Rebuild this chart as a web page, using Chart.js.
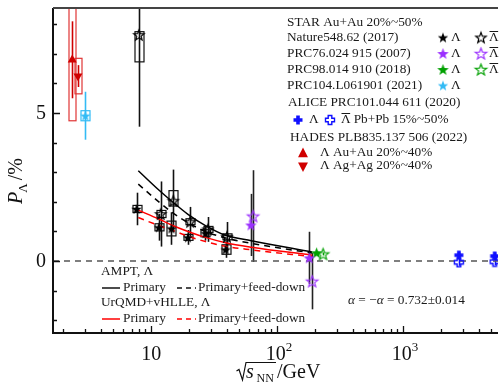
<!DOCTYPE html>
<html><head><meta charset="utf-8">
<script src="https://cdn.jsdelivr.net/npm/chart.js@4.4.0/dist/chart.umd.min.js"></script>
<style>html,body{margin:0;padding:0;background:#fff}#wrap{width:504px;height:390px;position:relative}</style>
</head><body><div id="wrap"><canvas id="c" width="504" height="390"></canvas></div>
<script>
// ---------------- data ----------------
const xMin = 1.66, xMax = 5690, yMin = -2.43, yMax = 8.55;
const yMajorTicks = [0, 5];
const yMinorTicks = [-2, -1, 1, 2, 3, 4, 6, 7, 8];
const xMajorTicks = [10, 100, 1000];
const xTickLabels = ['10', '10|2', '10|3'];

// STAR Nature 548, 62 (2017)
const star17E = [7.65, 11.5, 14.5, 19.6, 27, 39];
const star17L = [1.76, 1.14, 1.10, 0.80, 0.94, 0.39];
const star17LStat = [0.55, 0.45, 0.55, 0.25, 0.25, 0.28];
const star17LSys = [0.12, 0.12, 0.25, 0.10, 0.12, 0.16];
const star17BarE = [7.98, 11.9, 15.0, 20.4, 28.2, 40.0];
const star17Bar = [7.64, 1.59, 2.04, 1.33, 1.07, 0.82];
const star17BarStat = [3.1, 1.1, 1.05, 0.5, 0.42, 0.5];
const star17BarSysLo = [0.91, 0.12, 0.18, 0.10, 0.10, 0.10];
const star17BarSysHi = [0.11, 0.12, 0.34, 0.10, 0.10, 0.10];
// STAR PRC 76, 024915 (2007)
const star07E = [62, 180];
const star07L = [1.22, 0.11];
const star07LStat = [1.05, 0.88];
const star07BarE = [64.5, 190];
const star07Bar = [1.52, -0.68];
const star07BarStat = [1.55, 0.95];
// STAR PRC 98, 014910 (2018)
const star18E = [206];
const star18L = [0.28];
const star18LStat = [0.04];
const star18BarE = [232];
const star18Bar = [0.24];
const star18BarStat = [0.05];
// STAR PRC 104, L061901 (2021)
const star21E = [3.0];
const star21L = [4.91];
const star21LStat = [0.81];
const star21LSys = [0.17];
// ALICE PRC 101, 044611 (2020)
const aliceE = [2780, 5350];
const aliceL = [0.20, 0.17];
const aliceLStat = [0.12, 0.12];
const aliceBar = [-0.04, -0.02];
const aliceBarStat = [0.12, 0.12];
// HADES PLB 835, 137506 (2022)
const hadesAuE = [2.36];
const hadesAu = [6.8];
const hadesAuStat = [1.3];
const hadesAuSys = [2.06];
const hadesAgE = [2.62];
const hadesAg = [6.25];
const hadesAgStat = [0.37];
const hadesAgSys = [0.6];
// models
const modelE = [7.9, 11.5, 14.5, 19.6, 27, 39, 62.4, 190];
const amptPrimary = [3.05, 2.40, 2.03, 1.58, 1.20, 0.87, 0.69, 0.31];
const amptFeed = [2.60, 2.00, 1.66, 1.30, 1.00, 0.78, 0.60, 0.27];
const urqmdPrimary = [1.72, 1.42, 1.22, 1.00, 0.80, 0.62, 0.47, 0.20];
const urqmdFeed = [1.47, 1.20, 1.05, 0.84, 0.66, 0.50, 0.38, 0.15];

// ---------------- styles ----------------
const FONT = '"Liberation Serif","Times New Roman",serif';
const LFS = 13.3;
const C_PURPLE = '#9b30ff', C_GREEN = '#00a000', C_CYAN = '#33bbf5', C_BLUE = '#1010ff', C_RED = '#d00000';

function starCanvas(R, color, filled, lw) {
  lw = lw || 1.2;
  const s = Math.ceil(2 * R + lw * 2 + 2);
  const c = document.createElement('canvas'); c.width = c.height = s;
  const g = c.getContext('2d');
  const cx = s / 2, cy = s / 2 + R * 0.1;
  g.beginPath();
  for (let k = 0; k < 10; k++) {
    const r = k % 2 ? R * 0.42 : R;
    const a = -Math.PI / 2 + k * Math.PI / 5;
    g.lineTo(cx + r * Math.cos(a), cy + r * Math.sin(a));
  }
  g.closePath();
  if (filled) { g.fillStyle = color; g.fill(); }
  else { g.strokeStyle = color; g.lineWidth = lw; g.lineJoin = 'miter'; g.stroke(); }
  return c;
}
function plusCanvas(size, arm, color, filled) {
  const s = Math.ceil(size + 3);
  const c = document.createElement('canvas'); c.width = c.height = s;
  const g = c.getContext('2d');
  const h = size / 2, t = arm / 2, o = s / 2;
  const pts = [[-t,-h],[t,-h],[t,-t],[h,-t],[h,t],[t,t],[t,h],[-t,h],[-t,t],[-h,t],[-h,-t],[-t,-t]];
  g.beginPath(); pts.forEach(p => g.lineTo(o + p[0], o + p[1])); g.closePath();
  if (filled) { g.fillStyle = color; g.fill(); }
  else { g.strokeStyle = color; g.lineWidth = 1.4; g.stroke(); }
  return c;
}
const imgStarBlackF = starCanvas(5.5, '#000', true);
const imgStarBlackO = starCanvas(5.5, '#000', false);
const imgStarPurpF = starCanvas(6, C_PURPLE, true);
const imgStarPurpO = starCanvas(6, C_PURPLE, false);
const imgStarGreenF = starCanvas(6, C_GREEN, true);
const imgStarGreenO = starCanvas(6, C_GREEN, false);
const imgStarCyanF = starCanvas(5.5, C_CYAN, true);
const imgPlusF = plusCanvas(9, 3.6, C_BLUE, true);
const imgPlusO = plusCanvas(9, 3.6, C_BLUE, false);

const pts = (xs, ys) => xs.map((v, i) => ({ x: v, y: ys[i] }));
function scat(xs, ys, style, extra) {
  return Object.assign({ type: 'scatter', data: pts(xs, ys), pointStyle: style, pointRadius: 5, showLine: false }, extra || {});
}
function modelLine(ys, color, dash) {
  return { type: 'line', data: pts(modelE, ys), borderColor: color, borderWidth: 1.5, borderDash: dash, pointRadius: 0,
           showLine: true, fill: false, tension: 0.35, cubicInterpolationMode: 'monotone' };
}

const datasets = [
  scat(star17E, star17L, imgStarBlackF),
  scat(star17BarE, star17Bar, imgStarBlackO),
  scat(star07E, star07L, imgStarPurpF),
  scat(star07BarE, star07Bar, imgStarPurpO),
  scat(star18E, star18L, imgStarGreenF),
  scat(star18BarE, star18Bar, imgStarGreenO),
  scat(star21E, star21L, imgStarCyanF),
  scat(aliceE, aliceL, imgPlusF),
  scat(aliceE, aliceBar, imgPlusO),
  scat(hadesAuE, hadesAu, 'triangle', { pointRadius: 5.2, backgroundColor: C_RED, borderColor: C_RED, borderWidth: 0 }),
  scat(hadesAgE, hadesAg, 'triangle', { pointRadius: 5.2, rotation: 180, backgroundColor: C_RED, borderColor: C_RED, borderWidth: 0 }),
  modelLine(amptPrimary, '#000', []),
  modelLine(amptFeed, '#000', [6, 5]),
  modelLine(urqmdPrimary, '#ff0000', []),
  modelLine(urqmdFeed, '#ff0000', [6, 5]),
  { type: 'line', data: [{ x: xMin, y: 0 }, { x: xMax, y: 0 }], borderColor: '#555', borderWidth: 1.6, borderDash: [6, 5], pointRadius: 0, showLine: true, fill: false }
];

// error bars / systematic boxes
const errSets = [
  { E: hadesAuE, v: hadesAu, st: hadesAuStat, sysLo: hadesAuSys, sysHi: hadesAuSys, c: C_RED, bc: '#e03535', w: 7 },
  { E: hadesAgE, v: hadesAg, st: hadesAgStat, sysLo: hadesAgSys, sysHi: hadesAgSys, c: C_RED, bc: '#e03535', w: 7 },
  { E: star21E, v: star21L, st: star21LStat, sysLo: star21LSys, sysHi: star21LSys, c: C_CYAN, bc: C_CYAN, w: 9 },
  { E: star17E, v: star17L, st: star17LStat, sysLo: star17LSys, sysHi: star17LSys, c: '#111', bc: '#111', w: 9 },
  { E: star17BarE, v: star17Bar, st: star17BarStat, sysLo: star17BarSysLo, sysHi: star17BarSysHi, c: '#111', bc: '#111', w: 9 },
  { E: star07E, v: star07L, st: star07LStat, c: '#222' },
  { E: star07BarE, v: star07Bar, st: star07BarStat, c: '#222' },
  { E: star18E, v: star18L, st: star18LStat, c: C_GREEN },
  { E: star18BarE, v: star18Bar, st: star18BarStat, c: C_GREEN },
  { E: aliceE, v: aliceL, st: aliceLStat, c: C_BLUE },
  { E: aliceE, v: aliceBar, st: aliceBarStat, c: C_BLUE }
];

const errPlugin = {
  id: 'err',
  beforeDatasetsDraw(chart) {
    const { ctx, chartArea: a, scales: { x, y } } = chart;
    ctx.save();
    ctx.beginPath(); ctx.rect(a.left, a.top, a.right - a.left, a.bottom - a.top); ctx.clip();
    errSets.forEach(s => {
      s.E.forEach((e, i) => {
        const px = Math.round(x.getPixelForValue(e)) + 0.5;
        ctx.strokeStyle = s.c; ctx.lineWidth = 1.6;
        ctx.beginPath();
        ctx.moveTo(px, y.getPixelForValue(s.v[i] + s.st[i]));
        ctx.lineTo(px, y.getPixelForValue(s.v[i] - s.st[i]));
        ctx.stroke();
        if (s.sysLo) {
          const t = y.getPixelForValue(s.v[i] + s.sysHi[i]);
          const b = y.getPixelForValue(s.v[i] - s.sysLo[i]);
          ctx.strokeStyle = s.bc; ctx.lineWidth = 1.2;
          ctx.strokeRect(px - s.w / 2, t, s.w, b - t);
        }
      });
    });
    ctx.restore();
  }
};

// draws Λ with an overbar; text baseline is 'middle'
function drawLambdaBar(ctx, x, yMid, size) {
  ctx.fillText('\u039B', x, yMid);
  const w = ctx.measureText('\u039B').width;
  ctx.save(); ctx.lineWidth = 1; ctx.strokeStyle = ctx.fillStyle;
  const yb = Math.round(yMid - size * 0.5) + 0.5;
  ctx.beginPath(); ctx.moveTo(x + 0.5, yb); ctx.lineTo(x + w - 0.5, yb); ctx.stroke();
  ctx.restore();
  return w;
}
function drawImg(ctx, img, cx, cy) { ctx.drawImage(img, cx - img.width / 2, cy - img.height / 2); }
function tri(ctx, cx, cy, r, down, color) {
  ctx.save(); ctx.fillStyle = color; ctx.beginPath();
  const s = down ? -1 : 1;
  ctx.moveTo(cx, cy - s * r); ctx.lineTo(cx + r * 0.9, cy + s * r * 0.75); ctx.lineTo(cx - r * 0.9, cy + s * r * 0.75);
  ctx.closePath(); ctx.fill(); ctx.restore();
}

const axesPlugin = {
  id: 'axes',
  afterDatasetsDraw(chart) {
    const { ctx, chartArea: a, scales: { x, y } } = chart;
    ctx.save();
    // ticks
    ctx.strokeStyle = '#111'; ctx.lineWidth = 1.3;
    ctx.beginPath();
    yMajorTicks.forEach(v => { const p = Math.round(y.getPixelForValue(v)) + 0.5; ctx.moveTo(a.left, p); ctx.lineTo(a.left + 7, p); });
    yMinorTicks.forEach(v => { const p = Math.round(y.getPixelForValue(v)) + 0.5; ctx.moveTo(a.left, p); ctx.lineTo(a.left + 4, p); });
    for (let d = 1; d <= 1000; d *= 10) {
      for (let m = 1; m <= 9; m++) {
        const v = d * m; if (v < xMin || v > xMax) continue;
        const p = Math.round(x.getPixelForValue(v)) + 0.5;
        const len = m === 1 ? 7 : 4;
        ctx.moveTo(p, a.bottom); ctx.lineTo(p, a.bottom - len);
      }
    }
    ctx.stroke();
    // axis lines
    ctx.lineWidth = 2; ctx.strokeStyle = '#111';
    ctx.beginPath(); ctx.moveTo(a.left, a.top); ctx.lineTo(a.left, a.bottom); ctx.lineTo(a.right, a.bottom); ctx.stroke();
    ctx.strokeStyle = '#444';
    ctx.beginPath(); ctx.moveTo(a.left, a.top); ctx.lineTo(a.right, a.top); ctx.stroke();

    // tick labels
    ctx.fillStyle = '#111';
    ctx.font = '20px ' + FONT; ctx.textAlign = 'right'; ctx.textBaseline = 'middle';
    yMajorTicks.forEach(v => ctx.fillText(String(v), a.left - 7, y.getPixelForValue(v) + 1));
    ctx.textBaseline = 'alphabetic'; ctx.textAlign = 'left';
    xMajorTicks.forEach((v, i) => {
      const [base, sup] = xTickLabels[i].split('|');
      ctx.font = '20px ' + FONT; const wb = ctx.measureText(base).width;
      let ws = 0; if (sup) { ctx.font = '13px ' + FONT; ws = ctx.measureText(sup).width; }
      const px = x.getPixelForValue(v);
      const x0 = px - (wb + ws) / 2 + (sup ? 2 : 0);
      ctx.font = '20px ' + FONT; ctx.fillText(base, x0, 360);
      if (sup) { ctx.font = '13px ' + FONT; ctx.fillText(sup, x0 + wb, 351); }
    });

    // x title: sqrt(s_NN) /GeV
    ctx.strokeStyle = '#111'; ctx.lineWidth = 1.2;
    ctx.beginPath(); ctx.moveTo(236.5, 371); ctx.lineTo(239, 369.5); ctx.lineTo(242.5, 380); ctx.lineTo(246, 362.5); ctx.lineTo(276, 362.5); ctx.stroke();
    ctx.font = 'italic 20px ' + FONT; ctx.fillText('s', 246, 378);
    ctx.font = '12px ' + FONT; ctx.fillText('NN', 256.5, 382);
    ctx.font = '20px ' + FONT; ctx.fillText('/GeV', 277, 378);

    // y title
    ctx.save(); ctx.translate(22, 204); ctx.rotate(-Math.PI / 2);
    ctx.font = 'italic 20px ' + FONT; ctx.fillText('P', 0, 0);
    const wp = ctx.measureText('P').width;
    ctx.font = '13px ' + FONT; ctx.fillText('\u039B', wp - 1, 5);
    const wl = ctx.measureText('\u039B').width;
    ctx.font = '20px ' + FONT; ctx.fillText('/%', wp + wl + 2, 0);
    ctx.restore();

    // top-right legend
    ctx.font = LFS + 'px ' + FONT; ctx.textBaseline = 'middle'; ctx.fillStyle = '#1a1a1a';
    const lx = 287;
    ctx.fillText('STAR Au+Au 20%~50%', lx, 23);
    const rows = [
      ['Nature548.62 (2017)', 38, imgStarBlackF, imgStarBlackO],
      ['PRC76.024 915 (2007)', 54, imgStarPurpF, imgStarPurpO],
      ['PRC98.014 910 (2018)', 70, imgStarGreenF, imgStarGreenO],
      ['PRC104.L061901 (2021)', 86, imgStarCyanF, null]
    ];
    rows.forEach(r => {
      ctx.fillStyle = '#1a1a1a'; ctx.fillText(r[0], lx, r[1]);
      drawImg(ctx, r[2], 443, r[1] - 0.5);
      ctx.fillText('\u039B', 451, r[1]);
      if (r[3]) { drawImg(ctx, r[3], 481, r[1] - 0.5); drawLambdaBar(ctx, 489, r[1], LFS); }
    });
    ctx.fillText('ALICE PRC101.044 611 (2020)', 288, 103);
    drawImg(ctx, imgPlusF, 298, 120);
    ctx.fillText('\u039B', 309, 120);
    drawImg(ctx, imgPlusO, 330, 120);
    const wlb = drawLambdaBar(ctx, 341, 120, LFS);
    ctx.fillText('Pb+Pb 15%~50%', 341 + wlb + 3, 120);
    ctx.fillText('HADES PLB835.137 506 (2022)', 290, 138);
    tri(ctx, 303, 153, 5.5, false, C_RED);
    tri(ctx, 303, 166.5, 5.5, true, C_RED);
    ctx.fillStyle = '#1a1a1a';
    ctx.fillText('\u039B Au+Au 20%~40%', 320, 153);
    ctx.fillText('\u039B Ag+Ag 20%~40%', 320, 166);

    // bottom-left legend
    ctx.fillText('AMPT, \u039B', 101, 272);
    ctx.fillText('UrQMD+vHLLE, \u039B', 101, 303);
    const lines = [[288, '#111'], [319, '#ff0000']];
    lines.forEach(([yy, col]) => {
      ctx.strokeStyle = col; ctx.lineWidth = 1.5;
      ctx.setLineDash([]); ctx.beginPath(); ctx.moveTo(102, yy); ctx.lineTo(120, yy); ctx.stroke();
      ctx.setLineDash([5, 4]); ctx.beginPath(); ctx.moveTo(177, yy); ctx.lineTo(196, yy); ctx.stroke();
      ctx.setLineDash([]);
      ctx.fillStyle = '#1a1a1a';
      ctx.fillText('Primary', 123, yy);
      ctx.fillText('Primary+feed-down', 198, yy);
    });
    // alpha text
    ctx.font = 'italic ' + LFS + 'px ' + FONT; ctx.fillText('\u03B1', 348, 301);
    let ax = 348 + ctx.measureText('\u03B1').width;
    ctx.font = LFS + 'px ' + FONT; ctx.fillText(' = \u2212', ax, 301); ax += ctx.measureText(' = \u2212').width;
    ctx.font = 'italic ' + LFS + 'px ' + FONT; ctx.fillText('\u03B1', ax, 301); ax += ctx.measureText('\u03B1').width;
    ctx.font = LFS + 'px ' + FONT; ctx.fillText(' = 0.732\u00B10.014', ax, 301);
    ctx.restore();
  }
};

new Chart(document.getElementById('c'), {
  type: 'scatter',
  data: { datasets },
  options: {
    responsive: false, animation: false, devicePixelRatio: 1,
    layout: { padding: { left: 53, top: 8, right: 0, bottom: 57 } },
    plugins: { legend: { display: false }, tooltip: { enabled: false } },
    scales: {
      x: { type: 'logarithmic', min: xMin, max: xMax, display: false },
      y: { type: 'linear', min: yMin, max: yMax, display: false }
    }
  },
  plugins: [errPlugin, axesPlugin]
});
</script>
</body></html>
